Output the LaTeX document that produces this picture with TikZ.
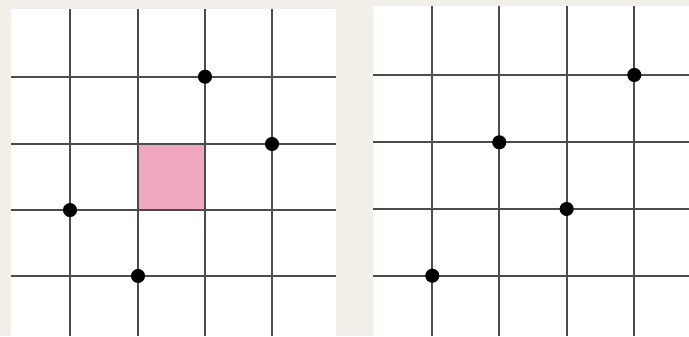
\documentclass[tikz,border=0pt]{standalone}
\usepackage{xcolor}
\usepackage{tikz}

\definecolor{paper}{HTML}{F2EEE8}
\definecolor{cellpink}{HTML}{EFA8BF}

\begin{document}
\begin{tikzpicture}[
    gridline/.style={black!70, line width=0.9pt},
    dot/.style={circle, fill=black, inner sep=0pt, minimum size=0.21cm},
]

% Background
\fill[paper] (0,0) rectangle (10.284, 5.015);
\useasboundingbox (0,0) rectangle (10.284, 5.015);

% Left panel
\fill[white] (0.17,0) rectangle (5.01, 4.88);
\fill[cellpink] (2.06,1.88) rectangle (3.06,2.866);
\foreach \x in {1.045, 2.06, 3.06, 4.06} {
    \draw[gridline] (\x, 0) -- (\x, 4.88);
}
\foreach \y in {0.896, 1.88, 2.866, 3.87} {
    \draw[gridline] (0.17, \y) -- (5.01, \y);
}

% Dots on left grid
\node[dot] (la) at (3.06, 3.87) {};
\node[dot] (lb) at (4.06, 2.866) {};
\node[dot] (lc) at (1.045, 1.88) {};
\node[dot] (ld) at (2.06, 0.896) {};

% Right panel
\fill[white] (5.57,0) rectangle (10.284, 4.925);
\foreach \x in {6.452, 7.452, 8.458, 9.467} {
    \draw[gridline] (\x, 0) -- (\x, 4.925);
}
\foreach \y in {0.9, 1.896, 2.891, 3.896} {
    \draw[gridline] (5.57, \y) -- (10.284, \y);
}

% Dots on right grid
\node[dot] (ra) at (9.467, 3.896) {};
\node[dot] (rb) at (7.452, 2.891) {};
\node[dot] (rc) at (8.458, 1.896) {};
\node[dot] (rd) at (6.452, 0.9) {};

\end{tikzpicture}
\end{document}
